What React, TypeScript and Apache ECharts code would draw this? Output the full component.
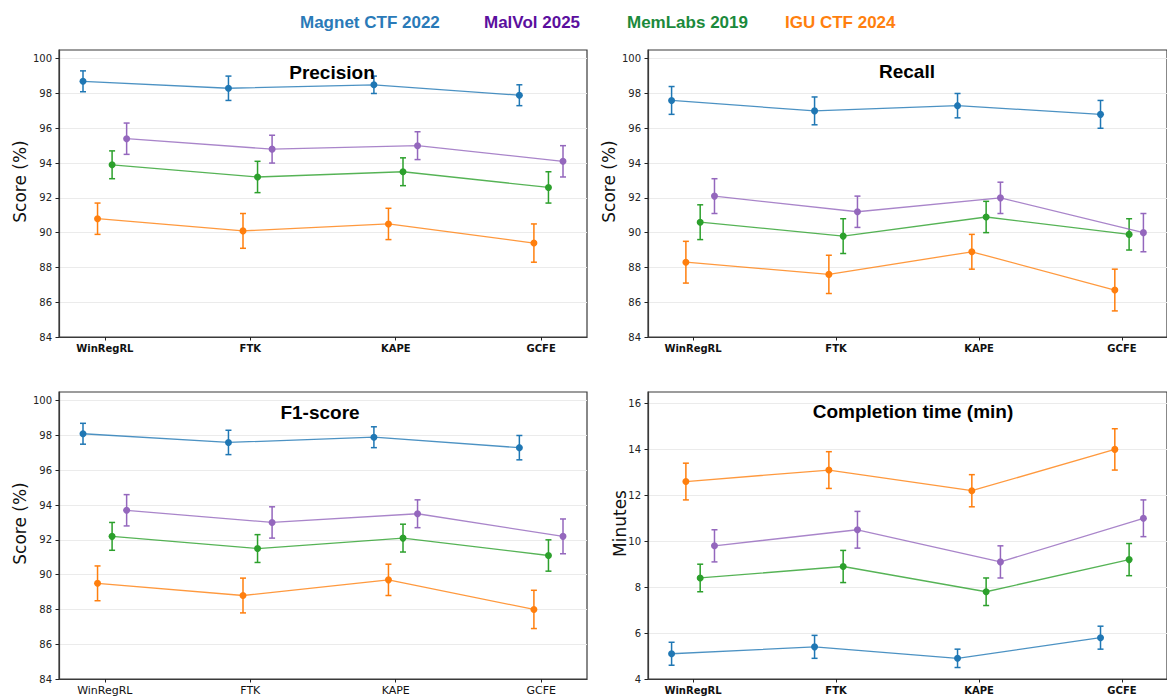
import React, { useEffect, useRef } from "react";
import * as echarts from "echarts";

// ---------- data ----------
const categories = ["WinRegRL", "FTK", "KAPE", "GCFE"];
const datasetNames = ["Magnet CTF 2022", "MalVol 2025", "MemLabs 2019", "IGU CTF 2024"];
const panelTitles = ["Precision", "Recall", "F1-score", "Completion time (min)"];
const yAxisTitles = ["Score (%)", "Score (%)", "Score (%)", "Minutes"];
const scoreTicks = [84, 86, 88, 90, 92, 94, 96, 98, 100];
const timeTicks = [4, 6, 8, 10, 12, 14, 16];

// Precision
const precisionMagnet = [98.7, 98.3, 98.5, 97.9];
const precisionMagnetErr = [0.6, 0.7, 0.5, 0.6];
const precisionMalVol = [95.4, 94.8, 95.0, 94.1];
const precisionMalVolErr = [0.9, 0.8, 0.8, 0.9];
const precisionMemLabs = [93.9, 93.2, 93.5, 92.6];
const precisionMemLabsErr = [0.8, 0.9, 0.8, 0.9];
const precisionIGU = [90.8, 90.1, 90.5, 89.4];
const precisionIGUErr = [0.9, 1.0, 0.9, 1.1];

// Recall
const recallMagnet = [97.6, 97.0, 97.3, 96.8];
const recallMagnetErr = [0.8, 0.8, 0.7, 0.8];
const recallMalVol = [92.1, 91.2, 92.0, 90.0];
const recallMalVolErr = [1.0, 0.9, 0.9, 1.1];
const recallMemLabs = [90.6, 89.8, 90.9, 89.9];
const recallMemLabsErr = [1.0, 1.0, 0.9, 0.9];
const recallIGU = [88.3, 87.6, 88.9, 86.7];
const recallIGUErr = [1.2, 1.1, 1.0, 1.2];

// F1-score
const f1Magnet = [98.1, 97.6, 97.9, 97.3];
const f1MagnetErr = [0.6, 0.7, 0.6, 0.7];
const f1MalVol = [93.7, 93.0, 93.5, 92.2];
const f1MalVolErr = [0.9, 0.9, 0.8, 1.0];
const f1MemLabs = [92.2, 91.5, 92.1, 91.1];
const f1MemLabsErr = [0.8, 0.8, 0.8, 0.9];
const f1IGU = [89.5, 88.8, 89.7, 88.0];
const f1IGUErr = [1.0, 1.0, 0.9, 1.1];

// Completion time (min)
const timeMagnet = [5.1, 5.4, 4.9, 5.8];
const timeMagnetErr = [0.5, 0.5, 0.4, 0.5];
const timeMalVol = [9.8, 10.5, 9.1, 11.0];
const timeMalVolErr = [0.7, 0.8, 0.7, 0.8];
const timeMemLabs = [8.4, 8.9, 7.8, 9.2];
const timeMemLabsErr = [0.6, 0.7, 0.6, 0.7];
const timeIGU = [12.6, 13.1, 12.2, 14.0];
const timeIGUErr = [0.8, 0.8, 0.7, 0.9];

// ---------- styles / layout ----------
const lineColors = ["#1f77b4", "#9467bd", "#2ca02c", "#ff7f0e"];
const legendColors = ["#2a7ab8", "#5b0f9e", "#1b8a3c", "#ff7f0e"];
const dodge = [-0.15, 0.15, 0.05, -0.05];
const legendX = [300, 484, 627, 785];

const panels = [
  { vals: [precisionMagnet, precisionMalVol, precisionMemLabs, precisionIGU], errs: [precisionMagnetErr, precisionMalVolErr, precisionMemLabsErr, precisionIGUErr], ticks: scoreTicks, min: 84, max: 100.5, left: 59, top: 50, boldX: true, titleX: 332, titleY: 72, ylabX: 20 },
  { vals: [recallMagnet, recallMalVol, recallMemLabs, recallIGU], errs: [recallMagnetErr, recallMalVolErr, recallMemLabsErr, recallIGUErr], ticks: scoreTicks, min: 84, max: 100.5, left: 648, top: 50, boldX: true, titleX: 907, titleY: 71, ylabX: 609 },
  { vals: [f1Magnet, f1MalVol, f1MemLabs, f1IGU], errs: [f1MagnetErr, f1MalVolErr, f1MemLabsErr, f1IGUErr], ticks: scoreTicks, min: 84, max: 100.5, left: 59, top: 392, boldX: false, titleX: 320, titleY: 412, ylabX: 20 },
  { vals: [timeMagnet, timeMalVol, timeMemLabs, timeIGU], errs: [timeMagnetErr, timeMalVolErr, timeMemLabsErr, timeIGUErr], ticks: timeTicks, min: 4, max: 16.5, left: 648, top: 392, boldX: true, titleX: 913, titleY: 411, ylabX: 620 },
];

const PW = 528;
const PH = 287;

function buildOption() {
  const grid: any[] = [];
  const xAxis: any[] = [];
  const yAxis: any[] = [];
  const series: any[] = [];
  const graphic: any[] = [];

  panels.forEach((p, g) => {
    grid.push({
      left: p.left,
      top: p.top,
      width: PW,
      height: PH,
      show: true,
      borderColor: "#3a3a3a",
      borderWidth: 1.2,
      backgroundColor: "transparent",
    });
    xAxis.push({
      type: "value",
      gridIndex: g,
      min: -0.315,
      max: 3.315,
      axisLine: { show: true, onZero: false, lineStyle: { color: "#3a3a3a", width: 1.2 } },
      axisTick: { show: true, customValues: [0, 1, 2, 3], length: 3.5, lineStyle: { color: "#222" } },
      splitLine: { show: false },
      axisLabel: {
        customValues: [0, 1, 2, 3],
        formatter: (v: number) => categories[Math.round(v)] ?? "",
        fontFamily: "DejaVu Sans",
        fontSize: p.boldX ? 10 : 11,
        fontWeight: p.boldX ? "bold" : "normal",
        color: "#111",
        margin: 6,
      },
    });
    yAxis.push({
      type: "value",
      gridIndex: g,
      min: p.min,
      max: p.max,
      interval: 2,
      axisLine: { show: true, onZero: false, lineStyle: { color: "#3a3a3a", width: 1.2 } },
      axisTick: { show: true, customValues: p.ticks, length: 3.5, lineStyle: { color: "#222" } },
      splitLine: { show: true, lineStyle: { color: "#ebebeb", width: 1 } },
      axisLabel: {
        customValues: p.ticks,
        formatter: (v: number) => (v % 2 === 0 ? String(v) : ""),
        fontFamily: "DejaVu Sans",
        fontSize: 10,
        color: "#222",
        margin: 7,
      },
    });

    p.vals.forEach((vals, s) => {
      const errs = p.errs[s];
      const color = lineColors[s];
      series.push({
        type: "custom",
        name: datasetNames[s],
        xAxisIndex: g,
        yAxisIndex: g,
        silent: true,
        z: 3,
        encode: { x: 0, y: [1, 2] },
        data: vals.map((v, i) => [i + dodge[s], v - errs[i], v + errs[i]]),
        renderItem: (params: any, api: any) => {
          const x = api.value(0);
          const lo = api.coord([x, api.value(1)]);
          const hi = api.coord([x, api.value(2)]);
          const cw = 3;
          const st = { stroke: color, lineWidth: 1.5 };
          return {
            type: "group",
            children: [
              { type: "line", shape: { x1: lo[0], y1: lo[1], x2: hi[0], y2: hi[1] }, style: st },
              { type: "line", shape: { x1: lo[0] - cw, y1: lo[1], x2: lo[0] + cw, y2: lo[1] }, style: st },
              { type: "line", shape: { x1: hi[0] - cw, y1: hi[1], x2: hi[0] + cw, y2: hi[1] }, style: st },
            ],
          };
        },
      });
      series.push({
        type: "line",
        name: datasetNames[s],
        xAxisIndex: g,
        yAxisIndex: g,
        z: 4,
        data: vals.map((v, i) => [i + dodge[s], v]),
        symbol: "circle",
        symbolSize: 7,
        itemStyle: { color, opacity: 1 },
        lineStyle: { color, width: 1.3, opacity: 0.8 },
      });
    });

    graphic.push({
      type: "text",
      x: p.titleX,
      y: p.titleY,
      style: {
        text: panelTitles[g],
        font: "bold 19px 'Liberation Sans', Arial, sans-serif",
        fill: "#000",
        textAlign: "center",
        textVerticalAlign: "middle",
      },
      z: 10,
    });
    graphic.push({
      type: "text",
      x: p.ylabX,
      y: p.top + PH / 2 - 12,
      rotation: Math.PI / 2,
      style: {
        text: yAxisTitles[g],
        font: "17px 'DejaVu Sans', sans-serif",
        fill: "#111",
        textAlign: "center",
        textVerticalAlign: "middle",
      },
      z: 10,
    });
  });

  datasetNames.forEach((n, s) => {
    graphic.push({
      type: "text",
      x: legendX[s],
      y: 22,
      style: {
        text: n,
        font: "bold 17px 'Liberation Sans', Arial, sans-serif",
        fill: legendColors[s],
        textAlign: "left",
        textVerticalAlign: "middle",
      },
      z: 10,
    });
  });

  return {
    animation: false,
    backgroundColor: "#ffffff",
    grid,
    xAxis,
    yAxis,
    series,
    graphic,
  };
}

export default function App() {
  const ref = useRef<HTMLDivElement>(null);
  useEffect(() => {
    if (!ref.current) return;
    const chart = echarts.init(ref.current, null, { renderer: "svg" });
    chart.setOption(buildOption() as any);
    return () => chart.dispose();
  }, []);
  return (
    <div
      ref={ref}
      style={{ position: "fixed", left: 0, top: 0, width: 1167, height: 698, background: "#fff" }}
    />
  );
}
